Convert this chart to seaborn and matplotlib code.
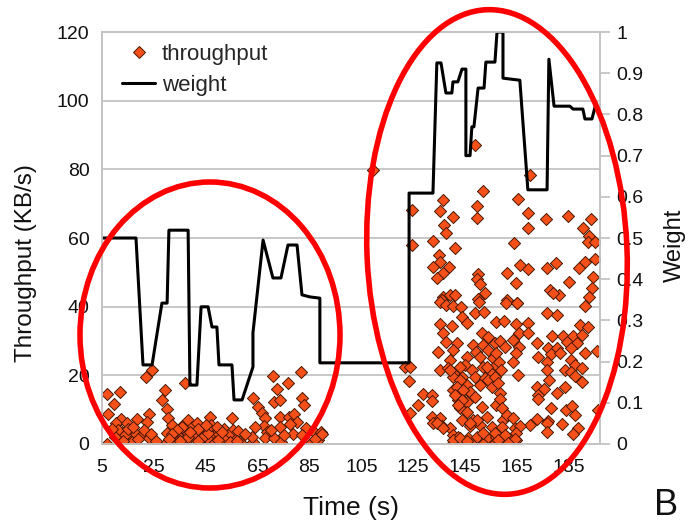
import matplotlib.pyplot as plt
import seaborn as sns
from matplotlib.patches import Ellipse
from matplotlib.lines import Line2D

# throughput samples (time s, KB/s)
left_points = [
    (24.2, 21.5), (22, 19.6), (7, 14.5), (11.9, 15), (9.6, 11.6), (7.4, 8.6), (12.2, 7.3),
    (10.4, 6.0), (14.5, 6.0), (18.4, 7.3), (23.2, 8.6), (22.2, 6.5), (12.6, 3.6), (15.8, 2.6),
    (18.1, 2.8), (20.9, 2.8), (23.2, 1.8), (7, 0), (16.4, 0.5), (11.3, 4.1), (13.9, 2.6),
    (29.3, 15.7), (28, 12.8), (29.9, 10.2), (37, 17.7), (30.6, 7.5), (31.8, 5.5), (29.9, 3.1),
    (29.9, 0.5), (33.8, 2.6), (35.7, 5.3), (38.3, 7.0), (37.6, 3.6), (37.4, 0.9), (39.6, 5.0),
    (41.5, 6.0), (43.4, 3.1), (44, 0.7), (46.6, 8.0), (46.6, 4.6), (48.6, 2.6), (48.6, 0.7),
    (33.8, 0.5), (40.9, 1.7), (45.6, 1.7), (40, 3), (42, 4.5), (44, 2), (46, 3.2), (47, 5.5),
    (50, 2.8), (52, 4.5), (53, 1.2), (56, 2.2), (36, 5), (38, 2), (34, 4), (32, 3), (10, 2),
    (13, 1), (15, 4.5), (19, 1.5), (21, 4), (24, 3), (26, 1), (31, 1.5), (35, 1), (42, 1),
    (45, 5.5), (39, 3.5), (9, 4.5), (17, 5),
]
mid_points = [
    (71, 19.9), (81.7, 20.9), (76.6, 17.7), (72.3, 16.0), (63.3, 13.5), (71.4, 12.3),
    (73.6, 12.8), (82.2, 13.3), (65.3, 10.9), (83, 11.4), (66.5, 8.9), (67.8, 7.5), (73.6, 8.0),
    (77.1, 8.0), (79.1, 8.6), (80, 6.3), (77.5, 5.7), (73.6, 5.0), (67.5, 5.3), (68.5, 3.4),
    (67.8, 1.8), (71.4, 1.7), (74, 0.5), (78.8, 2.8), (83.5, 4.8), (86.8, 3.6), (89.4, 3.4),
    (85.6, 0.2), (88.2, 1.2), (63.3, 0.5), (62.7, 2.1), (58.6, 0.2), (55, 7.5), (55.6, 4.1),
    (57.5, 3.8), (53.7, 2.6), (51.8, 1.7), (49.8, 1.2), (49.2, 5.0), (54.3, 0.5), (51.1, 3.6),
    (57, 0.8), (60, 3), (64, 5), (70, 4), (75, 2.5), (82, 2.5), (87, 1.5), (90, 2.8),
]
upper_points = [
    (109.3, 79.8), (148.8, 87), (152, 73.8), (136.3, 71.1), (124.7, 68.2), (135.5, 67.9),
    (149.7, 69.3), (140.4, 66.0), (149.4, 65.9), (136.8, 63.8), (137.6, 61.5), (124.7, 58),
    (132.5, 59.2), (141.1, 57), (135, 55), (135.5, 53.1), (132.5, 51.5), (138.9, 51.5),
    (136.3, 49.9), (134.3, 48.3), (150.1, 49.5), (149.7, 48), (150.7, 46.6), (152.6, 44.1),
    (150.1, 42.1), (136.6, 42.9), (139.2, 43.4), (141.1, 43.4), (135.9, 41.9),
    (170, 78.4), (165.5, 71.3), (169.3, 67.4), (176, 65.4), (184.8, 66.4), (193.5, 65.4),
    (169.3, 62.8), (190.5, 62.8), (192.7, 60.6), (192.2, 58.9), (195.1, 58.9), (164, 58.6),
    (191.2, 53.1), (195.1, 53.8), (179.9, 52.8), (166.1, 52.1), (169.3, 50.9), (176.4, 51.2),
    (188.9, 51.2), (161, 49.9), (194.4, 48.6), (164.8, 47), (185, 47.3), (193.8, 45.4),
    (177.7, 44.9), (181.2, 43.4), (161, 41.9), (165.2, 41.2), (192.7, 42.9), (179, 44.1),
]
lower_points = [
    (135.3, 41.5), (137.6, 40.5), (140.2, 40.2), (143.3, 39.8), (150.5, 41.5), (143.7, 37.1),
    (148.8, 38.1), (152.3, 38.5), (135.3, 35), (139.8, 34.4), (145.6, 35.2), (136.6, 32.4),
    (151.4, 32.2), (154, 31.3), (137.8, 29.8), (141.7, 29.5), (148.1, 28.8), (152, 28.8),
    (156.5, 29.3), (134.6, 26.9), (140.4, 27.4), (149.2, 26.9), (154, 27.4), (145.6, 25.4),
    (150.7, 25.3), (155.8, 25), (139.2, 24.5), (121.8, 22.5), (135.3, 21.6), (138.5, 22),
    (144.9, 23), (147.5, 21.6), (152, 22.5), (157.1, 23), (154.6, 21.1), (123.5, 18.4),
    (141.1, 20.1), (143.7, 19.6), (148.8, 19.6), (152.6, 19.1), (143, 17.2), (145.6, 17.2),
    (150.7, 17.2), (155.8, 17.7), (128.6, 14.6), (132.1, 14.3), (140.4, 15.7), (143.7, 14.8),
    (146.9, 15.2), (148.8, 13.8), (132.1, 12.6), (127, 11.4), (142.4, 12.8), (145.6, 12.3),
    (151.4, 10.9), (157.1, 11.4), (123.7, 9.1), (143, 10.4), (145.6, 9.4), (132.1, 8),
    (135.3, 7.5), (143.7, 7), (148.1, 7), (153.3, 8), (132.7, 6.2), (135.9, 5.2), (139.2, 4.6),
    (146.9, 5.2), (150.7, 5.5), (155.2, 5), (140.4, 2.6), (142.4, 1.9), (146.2, 1.7),
    (149.4, 2.1), (153.3, 1.7), (157.1, 2.1), (140.2, 0.2), (143.7, 0.4), (147.5, 0),
    (152, 0), (156.1, 0), (123.7, 22.4),
    (140.4, 19.6), (143, 18.6), (141.7, 16.7), (144.3, 15.7), (141.1, 14.3), (143.7, 12.8),
    (142.4, 11.4), (139.2, 21.6), (143, 22.5), (154, 18.6), (155.2, 16.7), (156.5, 19.6),
    (153.3, 22.5), (158.4, 14.8), (140.4, 1.2), (143, 1.7), (145.6, 1), (156.5, 3.1),
    (158.4, 1.2), (161, 2.1), (164.8, 1.2), (164.2, 4.6), (159.7, 7), (134, 6), (136.6, 4.6),
    (149.4, 7), (152, 3.1), (146.9, 6),
    (160.6, 41), (165.2, 41.2), (191.2, 40.2), (176.4, 38.2), (180.6, 37.6), (157.1, 35.6),
    (160.1, 35.9), (164.5, 35), (169.3, 35.3), (189.3, 34.7), (192.4, 34), (165.7, 32.2),
    (169.3, 32.4), (178.6, 31.5), (182.9, 31.5), (186.7, 31.5), (190.2, 31.8), (158.4, 30.1),
    (163.5, 30.3), (172.9, 29.5), (184.1, 29.8), (188, 29.5), (160.3, 28.3), (165.7, 28.3),
    (177, 27.9), (180.3, 27.9), (186, 27.9), (195.7, 27.2), (157.1, 26.4), (164.8, 26.4),
    (178.1, 26.2), (181.5, 26.4), (191.2, 26.4), (173.2, 25.3), (185.8, 24.5), (158, 24),
    (163.5, 24), (176.4, 24), (187.3, 23), (190.2, 22), (158.8, 21.6), (176.7, 21.6),
    (183.5, 21.6), (185.8, 21.1), (165.5, 20.1), (177.3, 18.6), (187.3, 19.8), (189.9, 18.1),
    (157.8, 17.7), (172.6, 16.5), (175.4, 15.9), (183.7, 16.7), (173.2, 14.3), (180.6, 14.9),
    (173.2, 13), (158.4, 13), (178.2, 10.4), (183.8, 9.9), (186.3, 11.1), (196.3, 9.9),
    (159.1, 10.4), (161, 8.4), (163.5, 7.5), (172.9, 7.2), (177, 6.8), (187.3, 8.4), (170, 5.5),
    (166.1, 5.2), (176.7, 6.0), (182.2, 5.8), (188.6, 4.6), (159.1, 5.0), (164.8, 3.1),
    (160.3, 2.6), (176.4, 3.6), (186.7, 2.9), (164.2, 1.4), (157.8, 1.2), (161.6, 0.2),
]

# weight curve (time s, weight)
weight_points = [
    (5, 0.5), (18.1, 0.5), (20.8, 0.192), (24.3, 0.192), (28.1, 0.342), (30.1, 0.342),
    (30.8, 0.519), (38.2, 0.519), (38.9, 0.143), (41.6, 0.143), (43.2, 0.333), (45.9, 0.333),
    (47.4, 0.284), (49.3, 0.284), (50.1, 0.192), (55.1, 0.192), (55.9, 0.107), (59.0, 0.107),
    (63.2, 0.187), (63.2, 0.27), (67.1, 0.495), (70.9, 0.403), (74.0, 0.403), (76.7, 0.483),
    (80.2, 0.483), (82.1, 0.362), (85.2, 0.357), (89.0, 0.354), (89.0, 0.197), (123.4, 0.197),
    (123.4, 0.609), (132.6, 0.609), (134.1, 0.925), (135.7, 0.925), (137.6, 0.852),
    (139.9, 0.852), (140.3, 0.879), (142.2, 0.879), (143.8, 0.91), (145.3, 0.91), (145.3, 0.70),
    (146.9, 0.70), (147.6, 0.77), (148.4, 0.77), (150.0, 0.864), (152.3, 0.864), (153.0, 0.927),
    (156.5, 0.927), (157.3, 1.0), (159.6, 1.0), (159.6, 0.888), (166.1, 0.883), (169.2, 0.617),
    (176.6, 0.617), (177.3, 0.934), (179.3, 0.82), (185.4, 0.82), (186.6, 0.813),
    (190.4, 0.813), (191.2, 0.789), (193.9, 0.789), (195.1, 0.818), (196.2, 0.818),
]

x_ticks = [5, 25, 45, 65, 85, 105, 125, 145, 165, 185]
left_ticks = [0, 20, 40, 60, 80, 100, 120]
right_ticks = [0, 0.1, 0.2, 0.3, 0.4, 0.5, 0.6, 0.7, 0.8, 0.9, 1]
right_labels = ["0", "0.1", "0.2", "0.3", "0.4", "0.5", "0.6", "0.7", "0.8", "0.9", "1"]

sns.set_style("white")
plt.rcParams['font.family'] = ['Liberation Sans', 'DejaVu Sans']

grid_col = "#c4c4c4"
marker_col = "#f5501a"
edge_col = "#4a1800"
text_col = "#111111"

tp = left_points + mid_points + upper_points + lower_points
tp_time = [p[0] for p in tp]
tp_value = [p[1] for p in tp]
w_time = [p[0] for p in weight_points]
w_value = [p[1] for p in weight_points]

fig = plt.figure(figsize=(6.86, 5.25), dpi=100)
ax = fig.add_axes([0.1487, 0.1543, 0.7259, 0.7847])

sns.scatterplot(x=tp_time, y=tp_value, marker="D", s=38, color=marker_col,
                edgecolor=edge_col, linewidth=0.7, ax=ax, zorder=3, legend=False)
ax.set_xlim(5, 197)
ax.set_ylim(0, 120)
ax.set_xticks(x_ticks)
ax.set_yticks(left_ticks)
ax.yaxis.grid(True, color=grid_col, lw=1.3)
ax.set_axisbelow(True)
for s in ax.spines.values():
    s.set_color(grid_col)
    s.set_linewidth(1.3)
ax.tick_params(axis="y", length=0, pad=9, labelsize=14, labelcolor=text_col)
ax.tick_params(axis="x", length=7, width=1.3, color=grid_col, pad=4, labelsize=14,
               labelcolor=text_col)
ax.set_xlabel("Time (s)", fontsize=19, labelpad=14, color=text_col)
ax.set_ylabel("Throughput (KB/s)", fontsize=17.5, color=text_col)
ax.yaxis.set_label_coords(-0.13, 0.44)

ax2 = ax.twinx()
sns.lineplot(x=w_time, y=w_value, sort=False, estimator=None, color="black",
             lw=2.2, ax=ax2, legend=False)
ax2.set_ylim(0, 1)
ax2.set_yticks(right_ticks)
ax2.set_yticklabels(right_labels)
for s in ax2.spines.values():
    s.set_color(grid_col)
    s.set_linewidth(1.3)
ax2.tick_params(axis="y", length=7, width=1.3, color=grid_col, pad=5, labelsize=14,
                labelcolor=text_col)
ax2.set_ylabel("Weight", fontsize=17, color=text_col)
ax2.yaxis.set_label_coords(1.128, 0.483)

handles = [
    Line2D([], [], marker="D", ls="", markersize=6.5, markerfacecolor=marker_col,
           markeredgecolor=edge_col, markeredgewidth=0.7),
    Line2D([], [], color="black", lw=2.2),
]
ax2.legend(handles, ["throughput", "weight"], loc="upper left", frameon=False,
           fontsize=16, handlelength=1.5, handletextpad=0.3, labelspacing=0.45,
           bbox_to_anchor=(0.0, 1.02))

# red highlight ellipses, placed in figure inches
for cx, cy, w, h, ang in [(2.10, 1.90, 2.60, 3.06, 0), (4.97, 2.73, 2.60, 4.85, 2.5)]:
    e = Ellipse((cx, cy), w, h, angle=ang, transform=fig.dpi_scale_trans,
                fill=False, edgecolor="#ff0000", lw=4, clip_on=False, zorder=10)
    fig.add_artist(e)

fig.text(0.954, 0.019, "B", fontsize=26, va="baseline", ha="left", color=text_col)

fig.savefig("out.png", dpi=100)
